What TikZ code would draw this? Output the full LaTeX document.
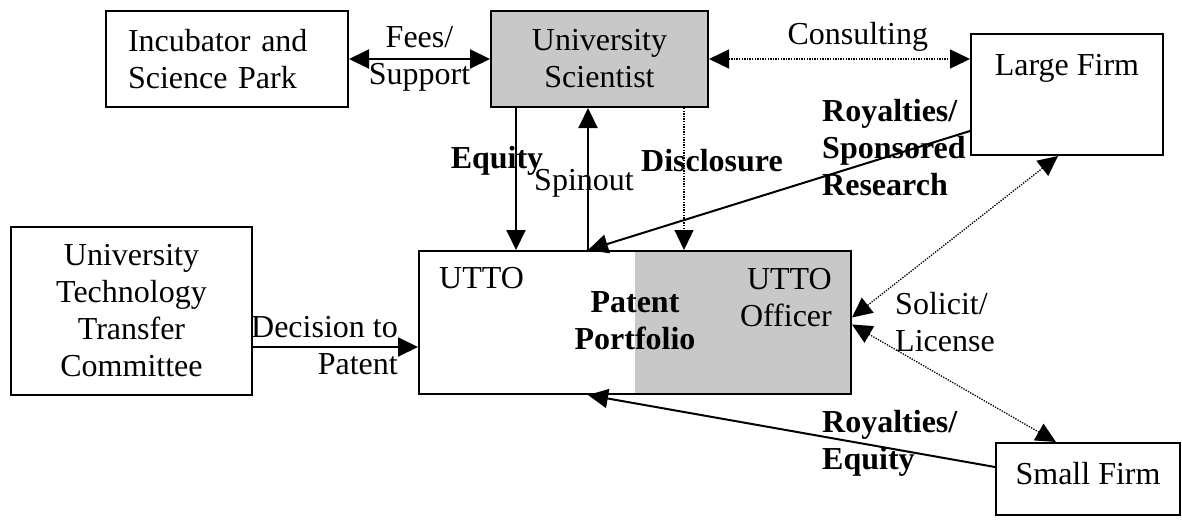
\documentclass[tikz,border=0pt]{standalone}
\usepackage{fontspec}
\setmainfont{Liberation Serif}
\usetikzlibrary{arrows.meta}

\definecolor{boxgray}{RGB}{200,200,200}
\newcommand{\figfont}{\fontsize{32}{37}\selectfont}

\begin{document}
\begin{tikzpicture}[
                x=1pt, y=-1pt,
                >={Triangle[length=20pt,width=19pt]},
                font=\figfont,
                box/.style={draw, line width=2pt, align=center},
                txt/.style={inner sep=0pt},
                btxt/.style={inner sep=0pt, font=\figfont\bfseries},
                flow/.style={line width=2pt, ->},
                both/.style={line width=2pt, <->},
                dflow/.style={line width=1.3pt, dash pattern=on 1.3pt off 1.3pt, ->},
                dboth/.style={line width=1.3pt, dash pattern=on 1.3pt off 1.3pt, <->}
            ]
                \useasboundingbox (0,0) rectangle (1182,523);

                \node[box, minimum width=242pt, minimum height=96pt, text width=198pt, inner xsep=22pt, align=left] (incubator) at (227,59) {Incubator and\\Science Park};
                \node[box, fill=boxgray, minimum width=217pt, minimum height=96pt] (scientist) at (599.5,59) {University\\Scientist};
                \node[box, minimum width=192pt, inner ysep=0pt, text height=41pt, text depth=80pt] (large) at (1067,94.5) {Large Firm};
                \node[box, minimum width=241pt, minimum height=168pt] (committee) at (131.5,311) {University\\Technology\\Transfer\\Committee};
                \node[box, minimum width=184pt, inner ysep=0pt, text height=41pt, text depth=31pt] (small) at (1088,479) {Small Firm};

                % UTTO box, officer half shaded
                \node[fill=boxgray, inner sep=0pt, minimum width=216pt, minimum height=143pt, anchor=west] (officer) at (635,322.5) {};
                \node[box, minimum width=432pt, minimum height=143pt] (utto) at (635,322.5) {};
                \node[txt, anchor=west] (uttoname) at (439,278) {UTTO};
                \node[txt, align=right, anchor=east] (officername) at (832,298) {UTTO\\Officer};
                \node[btxt, align=center] (portfolio) at (635,321) {Patent\\Portfolio};

                \coordinate (eqtop) at ([xshift=-83.5pt]scientist.south);
                \coordinate (spinbase) at ([xshift=-47pt]utto.north);
                \coordinate (disctop) at ([xshift=84.5pt]scientist.south);
                \coordinate (decstart) at ([yshift=-36pt]committee.east);

                \draw[both] (incubator.east) -- (scientist.west) node[txt, midway, align=center] (feeslbl) {Fees/\\Support};
                \draw[dboth] (scientist.east) -- (large.west |- scientist.east) node[txt, pos=0.57, above=7pt] (consultlbl) {Consulting};
                \draw[flow] (eqtop) -- (eqtop |- utto.north) node[btxt, pos=0.37, xshift=-19pt] (equitylbl) {Equity};
                \draw[flow] (spinbase) -- (spinbase |- scientist.south) node[txt, pos=0.47, xshift=-4pt] (spinlbl) {Spinout};
                \draw[dflow] (disctop) -- (disctop |- utto.north) node[btxt, pos=0.37, xshift=28pt] (disclbl) {Disclosure};
                \draw[flow] ([yshift=-36.5pt]large.west) -- (spinbase);
                \draw[dboth] ([xshift=-9pt]large.south) -- ([yshift=5pt]utto.east);
                \draw[dboth] ([xshift=-32pt]small.north) -- ([yshift=-2pt]utto.east);
                \draw[flow] ([yshift=12pt]small.west) -- (spinbase |- utto.south);
                \draw[flow] (decstart) -- (decstart -| utto.west);

                \node[btxt, align=left, anchor=west] (roylarge) at (822,148) {Royalties/\\Sponsored\\Research};
                \node[txt, align=left, anchor=west] (solicitlbl) at (895,322) {Solicit/\\License};
                \node[btxt, align=left, anchor=west] (roysmall) at (822,443) {Royalties/\\Equity};
                \node[txt, align=right, anchor=east] (declbl) at (398,345.5) {Decision to\\Patent};
            \end{tikzpicture}
\end{document}
